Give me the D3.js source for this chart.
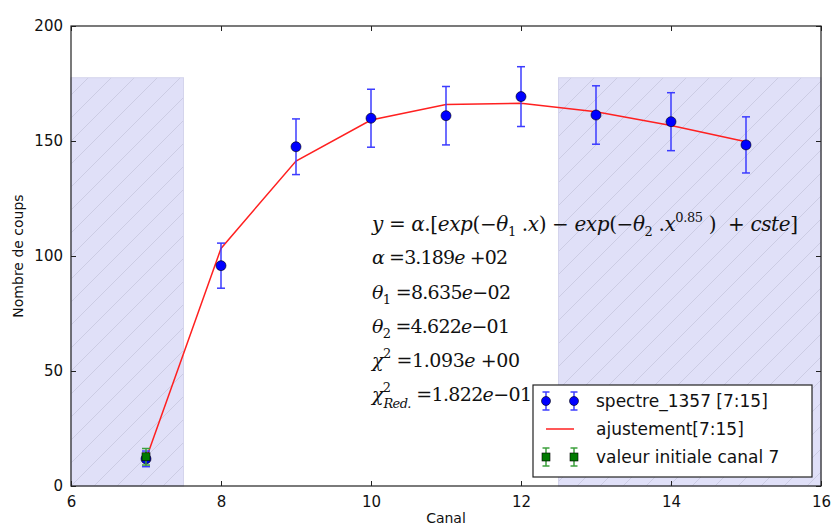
<!DOCTYPE html>
<html lang="en">
<head>
<meta charset="UTF-8">
<title>Ajustement spectre</title>
<script src="https://d3js.org/d3.v7.min.js"></script>
<style>
    body { margin: 0; background: white; }
    text { font-family: "DejaVu Sans", sans-serif; }
    .math { font-family: "DejaVu Serif", serif; }
</style>
</head>
<body>
<script>
    // Data
    let canaux = [7, 8, 9, 10, 11, 12, 13, 14, 15];
    let coups = [11.8, 95.8, 147.5, 159.9, 161.0, 169.3, 161.3, 158.4, 148.3];
    let erreurs = [3.4, 9.8, 12.1, 12.6, 12.7, 13.0, 12.7, 12.6, 12.2];
    let ajustement = [11.7, 103.3, 141.3, 159.1, 165.9, 166.4, 162.7, 156.7, 149.7];
    let initialCanal = [7];
    let initialValeur = [12.7];
    let initialErreur = [3.6];
    let zones = [[6, 7.5], [12.5, 16]];
    let zoneHaut = 177.5;
    let xTicks = [6, 8, 10, 12, 14, 16];
    let yTicks = [0, 50, 100, 150, 200];

    let width = 831, height = 529;
    let margin = {top: 26, right: 10, bottom: 43, left: 71};
    let innerW = 821 - margin.left, innerH = 486 - margin.top;

    let svg = d3.select("body").append("svg")
        .attr("width", width)
        .attr("height", height);

    // hatch pattern for shaded zones
    let defs = svg.append("defs");
    let pat = defs.append("pattern")
        .attr("id", "hatch")
        .attr("patternUnits", "userSpaceOnUse")
        .attr("width", 23).attr("height", 23);
    pat.append("rect").attr("width", 23).attr("height", 23).attr("fill", "#e0e0f8");
    pat.append("path")
        .attr("d", "M0,23 L23,0 M-6,6 L6,-6 M17,29 L29,17")
        .attr("stroke", "#c6c6de").attr("stroke-width", 0.8);

    let g = svg.append("g").attr("transform", `translate(${margin.left},${margin.top})`);

    let x = d3.scaleLinear().domain([6, 16]).range([0, innerW]);
    let y = d3.scaleLinear().domain([0, 200]).range([innerH, 0]);

    // shaded zones
    g.selectAll("rect.zone")
        .data(zones)
        .enter().append("rect")
        .attr("class", "zone")
        .attr("x", d => x(d[0]))
        .attr("width", d => x(d[1]) - x(d[0]))
        .attr("y", y(zoneHaut))
        .attr("height", y(0) - y(zoneHaut))
        .attr("fill", "url(#hatch)")
        .attr("stroke", "#d4d4ec").attr("stroke-width", 1);

    // axes with inward ticks on all four sides
    let tickStyle = sel => {
        sel.select(".domain").remove();
        sel.selectAll(".tick line").attr("stroke", "#222");
        sel.selectAll(".tick text").attr("font-size", 15).attr("fill", "#111")
            .style("font-family", '"DejaVu Sans", sans-serif');
    };
    g.append("g").attr("transform", `translate(0,${innerH})`)
        .call(d3.axisBottom(x).tickValues(xTicks).tickSize(-5).tickPadding(10))
        .call(tickStyle);
    g.append("g")
        .call(d3.axisTop(x).tickValues(xTicks).tickSize(-5).tickFormat(""))
        .call(tickStyle);
    g.append("g")
        .call(d3.axisLeft(y).tickValues(yTicks).tickSize(-5).tickPadding(8))
        .call(tickStyle);
    g.append("g").attr("transform", `translate(${innerW},0)`)
        .call(d3.axisRight(y).tickValues(yTicks).tickSize(-5).tickFormat(""))
        .call(tickStyle);

    g.append("rect")
        .attr("width", innerW).attr("height", innerH)
        .attr("fill", "none").attr("stroke", "#222").attr("stroke-width", 1.2);

    // fit line
    let line = d3.line().x(d => x(d[0])).y(d => y(d[1]));
    g.append("path")
        .datum(canaux.map((c, i) => [c, ajustement[i]]))
        .attr("d", line)
        .attr("fill", "none")
        .attr("stroke", "#ff2020")
        .attr("stroke-width", 1.5);

    // error bars helper
    function errorBars(data, color) {
        let eb = g.append("g");
        data.forEach(d => {
            let cx = x(d.c), y0 = y(d.v - d.e), y1 = y(d.v + d.e);
            eb.append("line").attr("x1", cx).attr("x2", cx).attr("y1", y0).attr("y2", y1)
                .attr("stroke", color).attr("stroke-width", 1.5);
            [y0, y1].forEach(yy => eb.append("line")
                .attr("x1", cx - 4).attr("x2", cx + 4).attr("y1", yy).attr("y2", yy)
                .attr("stroke", color).attr("stroke-width", 1.5));
        });
    }

    let spectre = canaux.map((c, i) => ({c: c, v: coups[i], e: erreurs[i]}));
    let initial = initialCanal.map((c, i) => ({c: c, v: initialValeur[i], e: initialErreur[i]}));

    errorBars(spectre, "#3c3cff");
    g.selectAll("circle.pt")
        .data(spectre)
        .enter().append("circle")
        .attr("class", "pt")
        .attr("cx", d => x(d.c)).attr("cy", d => y(d.v))
        .attr("r", 5)
        .attr("fill", "#0000ff").attr("stroke", "#000").attr("stroke-width", 0.6);

    errorBars(initial, "#3ca03c");
    g.selectAll("rect.init")
        .data(initial)
        .enter().append("rect")
        .attr("class", "init")
        .attr("x", d => x(d.c) - 4).attr("y", d => y(d.v) - 4)
        .attr("width", 8).attr("height", 8)
        .attr("fill", "#007a00").attr("stroke", "#000").attr("stroke-width", 0.6);

    // fit formula and parameters
    let mathLines = [
        [["y", "i"], [" = ", "r"], ["α", "i"], [".[", "r"], ["exp", "i"], ["(−", "r"], ["θ", "i"], ["1", "sub"],
         [" .", "r"], ["x", "i"], [") − ", "r"], ["exp", "i"], ["(−", "r"], ["θ", "i"], ["2", "sub"], [" .", "r"],
         ["x", "i"], ["0.85", "sup"], [" )  + ", "r"], ["cste", "i"], ["]", "r"]],
        [["α", "i"], [" =3.189", "r"], ["e", "i"], [" +02", "r"]],
        [["θ", "i"], ["1", "sub"], [" =8.635", "r"], ["e", "i"], ["−02", "r"]],
        [["θ", "i"], ["2", "sub"], [" =4.622", "r"], ["e", "i"], ["−01", "r"]],
        [["χ", "i"], ["2", "sup"], [" =1.093", "r"], ["e", "i"], [" +00", "r"]],
        [["χ", "i"], ["Red.", "subsup"], [" =1.822", "r"], ["e", "i"], ["−01", "r"]]
    ];
    let mathY = [231, 264, 299, 333, 367, 401];
    let mathW = [426, 136, 139, 138, 148, 160];
    let mathSize = [20, 19, 19, 19, 19, 19];

    mathLines.forEach((segs, li) => {
        let t = svg.append("text").attr("class", "math")
            .attr("x", 372).attr("y", mathY[li])
            .attr("font-size", mathSize[li]).attr("fill", "#111")
            .style("white-space", "pre")
            .attr("textLength", mathW[li]).attr("lengthAdjust", "spacing");
        let shift = 0;
        segs.forEach(s => {
            let [txt, st] = s;
            if (st === "subsup") {
                t.append("tspan").attr("dy", -9 - shift).attr("font-size", 13).text("2");
                t.append("tspan").attr("dy", 16).attr("dx", -7).attr("font-size", 13)
                    .attr("font-style", "italic").text(txt);
                shift = 7;
                return;
            }
            let ts = t.append("tspan").text(txt);
            if (st === "i") ts.attr("font-style", "italic");
            if (st === "sub") { ts.attr("dy", 5 - shift).attr("font-size", 13); shift = 5; return; }
            if (st === "sup") { ts.attr("dy", -9 - shift).attr("font-size", 13); shift = -9; return; }
            if (shift !== 0) { ts.attr("dy", -shift); shift = 0; }
        });
    });

    // legend
    let leg = svg.append("g");
    leg.append("rect")
        .attr("x", 533).attr("y", 385).attr("width", 279).attr("height", 92)
        .attr("fill", "white").attr("stroke", "#222").attr("stroke-width", 1.2);

    let legRows = [
        {label: "spectre_1357 [7:15]", type: "circle", color: "#0000ff", bar: "#3c3cff", yy: 401},
        {label: "ajustement[7:15]", type: "line", color: "#ff2020", yy: 429},
        {label: "valeur initiale canal 7", type: "square", color: "#007a00", bar: "#3ca03c", yy: 457}
    ];
    legRows.forEach(r => {
        if (r.type === "line") {
            leg.append("line").attr("x1", 546).attr("x2", 574).attr("y1", r.yy).attr("y2", r.yy)
                .attr("stroke", r.color).attr("stroke-width", 1.5);
        } else {
            [546, 574].forEach(cx => {
                leg.append("line").attr("x1", cx).attr("x2", cx).attr("y1", r.yy - 9).attr("y2", r.yy + 9)
                    .attr("stroke", r.bar).attr("stroke-width", 1.5);
                [r.yy - 9, r.yy + 9].forEach(yy => leg.append("line")
                    .attr("x1", cx - 3.5).attr("x2", cx + 3.5).attr("y1", yy).attr("y2", yy)
                    .attr("stroke", r.bar).attr("stroke-width", 1.5));
                if (r.type === "circle") {
                    leg.append("circle").attr("cx", cx).attr("cy", r.yy).attr("r", 4.5)
                        .attr("fill", r.color).attr("stroke", "#000").attr("stroke-width", 0.6);
                } else {
                    leg.append("rect").attr("x", cx - 4).attr("y", r.yy - 4).attr("width", 8).attr("height", 8)
                        .attr("fill", r.color).attr("stroke", "#000").attr("stroke-width", 0.6);
                }
            });
        }
        leg.append("text").attr("x", 596).attr("y", r.yy + 6)
            .attr("font-size", 17).attr("fill", "#111").text(r.label);
    });

    // axis labels
    svg.append("text").attr("x", 446).attr("y", 523)
        .attr("text-anchor", "middle").attr("font-size", 14).attr("fill", "#111").text("Canal");
    svg.append("text")
        .attr("transform", "translate(23,256) rotate(-90)")
        .attr("text-anchor", "middle").attr("font-size", 14).attr("fill", "#111").text("Nombre de coups");
</script>
</body>
</html>
